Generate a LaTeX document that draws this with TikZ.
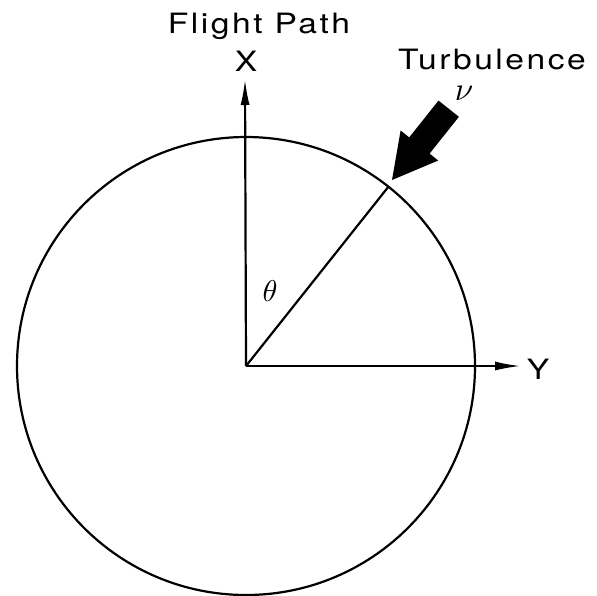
\documentclass[tikz,border=0pt]{standalone}
\usepackage{fontspec}
\newfontfamily\lab[FakeStretch=1.2,LetterSpace=9]{TeX Gyre Heros}
\usetikzlibrary{arrows.meta}
\tikzset{
  axis/.style={line width=2.2pt,-{Latex[length=26pt,width=9pt]}},
  thin line/.style={line width=2.2pt},
  lbl/.style={font=\lab\fontsize{28}{30}\selectfont, inner sep=0pt},
  greek/.style={inner sep=0pt}
}
\begin{document}
\begin{tikzpicture}[x=1pt,y=-1pt]
\useasboundingbox (0,0) rectangle (597,595);
\coordinate (O) at (246,366);
\coordinate (Xtip) at (245,79);
\coordinate (Ytip) at (521,366);
\coordinate (P) at (389,186);
% circle
\draw[thin line] (O) circle[radius=229pt];
% axes
\draw[axis] (O) -- (Xtip);
\draw[axis] (O) -- (Ytip);
\draw[thin line] (O) -- (P);
% labels
\node[lbl] (flight) at (259,26) {Flight Path};
\node[lbl] (X) at (246,61) {X};
\node[lbl] (Y) at (538,369) {Y};
\node[lbl] (turb) at (492,60) {Turbulence};
\node[greek] (nu) at (464,93) {\scalebox{3.3}{$\nu$}};
\node[greek] (theta) at (270,291) {\scalebox{3.0}{$\theta$}};
% turbulence arrow
\fill (392,180) -- (438.2,160.5) -- (429.6,153.6) -- (458.9,116.8) -- (438.5,100.6) -- (409.2,137.4) -- (400.6,130.5) -- cycle;
\end{tikzpicture}
\end{document}
